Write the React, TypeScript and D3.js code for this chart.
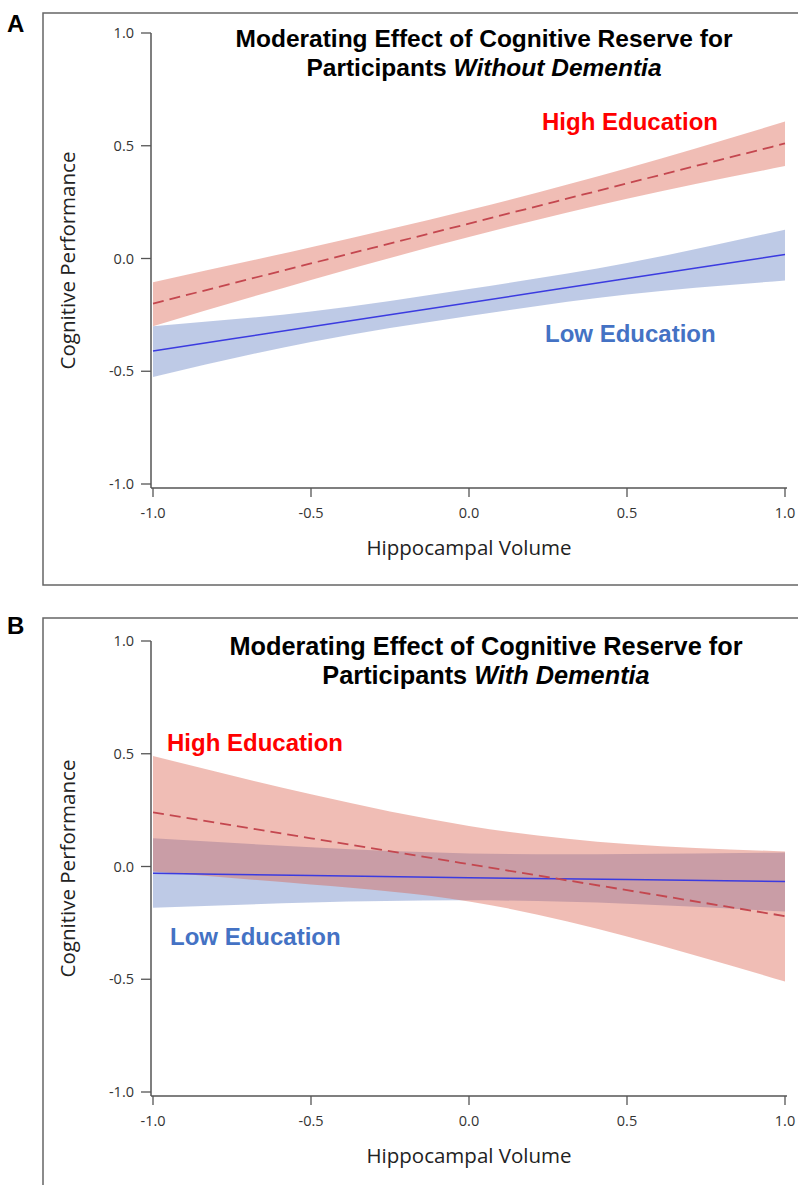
import React from "react";
import * as d3 from "d3";

// Hippocampal volume (standardised) at which the fitted values were read
const volume = [-1, -0.5, 0, 0.5, 1];

// Panel A: participants without dementia
const aHighFit = [-0.2, -0.022, 0.155, 0.333, 0.51];
const aHighUpper = [-0.105, 0.05, 0.215, 0.4, 0.607];
const aHighLower = [-0.3, -0.095, 0.095, 0.265, 0.41];
const aLowFit = [-0.41, -0.303, -0.196, -0.089, 0.018];
const aLowUpper = [-0.3, -0.235, -0.135, -0.02, 0.128];
const aLowLower = [-0.525, -0.37, -0.255, -0.16, -0.098];

// Panel B: participants with dementia
const bHighFit = [0.24, 0.125, 0.01, -0.105, -0.22];
const bHighUpper = [0.49, 0.32, 0.18, 0.1, 0.067];
const bHighLower = [-0.022, -0.08, -0.155, -0.31, -0.51];
const bLowFit = [-0.03, -0.04, -0.05, -0.058, -0.067];
const bLowUpper = [0.125, 0.085, 0.058, 0.055, 0.062];
const bLowLower = [-0.183, -0.16, -0.15, -0.165, -0.2];

const xTicks = [-1, -0.5, 0, 0.5, 1];
const yTicks = [-1, -0.5, 0, 0.5, 1];

const tickFont = "'Open Sans', 'DejaVu Sans', sans-serif";
const boldFont = "'Liberation Sans', Arial, sans-serif";

type PanelProps = {
  top: number;
  letter: string;
  letterY: number;
  frameTop: number;
  frameHeight: number;
  italic: string;
  titleX: number;
  titleSize: number;
  highFit: number[];
  highUpper: number[];
  highLower: number[];
  lowFit: number[];
  lowUpper: number[];
  lowLower: number[];
  highLabel: [number, number];
  lowLabel: [number, number];
};

function Panel(p: PanelProps) {
  const x = d3.scaleLinear().domain([-1, 1]).range([153, 785]);
  const y = d3.scaleLinear().domain([-1, 1]).range([484, 33]);
  const axisY = y(-1) + 4;

  const band = (lo: number[], hi: number[]) =>
    d3
      .area<number>()
      .x((d) => x(d))
      .y0((_, i) => y(lo[i]))
      .y1((_, i) => y(hi[i]))
      .curve(d3.curveNatural)(volume) || "";
  const line = (v: number[]) =>
    d3
      .line<number>()
      .x((d) => x(d))
      .y((_, i) => y(v[i]))
      .curve(d3.curveNatural)(volume) || "";

  // hyphen instead of d3's unicode minus, like the original
  const fmt = (t: number) => d3.format(".1f")(t).replace("\u2212", "-");

  return (
    <g transform={`translate(0, ${p.top})`}>
      <rect x={43} y={p.frameTop} width={800} height={p.frameHeight} fill="none" stroke="#666" strokeWidth={1.5} />
      <text x={7} y={p.letterY} fontFamily={boldFont} fontWeight="bold" fontSize={24} fill="#000">
        {p.letter}
      </text>

      <path d={band(p.lowLower, p.lowUpper)} fill="rgb(100,128,196)" fillOpacity={0.42} />
      <path d={band(p.highLower, p.highUpper)} fill="rgb(217,90,70)" fillOpacity={0.4} />
      <path d={line(p.lowFit)} fill="none" stroke="#3b3be0" strokeWidth={1.5} />
      <path d={line(p.highFit)} fill="none" stroke="#c4474f" strokeWidth={1.8} strokeDasharray="11,6" />

      {/* axes */}
      <line x1={151} x2={151} y1={y(1)} y2={axisY} stroke="#555" strokeWidth={1.5} />
      <line x1={151} x2={787} y1={axisY} y2={axisY} stroke="#555" strokeWidth={1.5} />
      {yTicks.map((t) => (
        <g key={"y" + t}>
          <line x1={141} x2={151} y1={y(t)} y2={y(t)} stroke="#555" strokeWidth={1.3} />
          <text x={134} y={y(t) + 5} textAnchor="end" fontFamily={tickFont} fontSize={14.5} fill="#333">
            {fmt(t)}
          </text>
        </g>
      ))}
      {xTicks.map((t) => (
        <g key={"x" + t}>
          <line x1={x(t)} x2={x(t)} y1={axisY} y2={axisY + 9} stroke="#555" strokeWidth={1.3} />
          <text x={x(t)} y={axisY + 30} textAnchor="middle" fontFamily={tickFont} fontSize={14.5} fill="#333">
            {fmt(t)}
          </text>
        </g>
      ))}
      <text
        transform={`translate(75, ${(y(1) + axisY) / 2}) rotate(-90)`}
        textAnchor="middle"
        fontFamily={tickFont}
        fontSize={20.5}
        fill="#222"
      >
        Cognitive Performance
      </text>
      <text x={469} y={axisY + 67} textAnchor="middle" fontFamily={tickFont} fontSize={20.5} fill="#222">
        Hippocampal Volume
      </text>

      {/* title */}
      <text x={p.titleX} y={47} textAnchor="middle" fontFamily={boldFont} fontWeight="bold" fontSize={p.titleSize} fill="#000">
        Moderating Effect of Cognitive Reserve for
      </text>
      <text x={p.titleX} y={76} textAnchor="middle" fontFamily={boldFont} fontWeight="bold" fontSize={p.titleSize} fill="#000">
        Participants <tspan fontStyle="italic">{p.italic}</tspan>
      </text>

      <text x={p.highLabel[0]} y={p.highLabel[1]} fontFamily={boldFont} fontWeight="bold" fontSize={24} fill="#ff0000">
        High Education
      </text>
      <text x={p.lowLabel[0]} y={p.lowLabel[1]} fontFamily={boldFont} fontWeight="bold" fontSize={24} fill="#4472c4">
        Low Education
      </text>
    </g>
  );
}

export default function App() {
  return (
    <svg
      width={798}
      height={1185}
      style={{ position: "absolute", left: 0, top: 0, background: "#fff" }}
    >
      <rect width={798} height={1185} fill="#fff" />
      <Panel
        top={0}
        letter="A"
        letterY={32}
        frameTop={13}
        frameHeight={572}
        italic="Without Dementia"
        titleX={484}
        titleSize={24.5}
        highFit={aHighFit}
        highUpper={aHighUpper}
        highLower={aHighLower}
        lowFit={aLowFit}
        lowUpper={aLowUpper}
        lowLower={aLowLower}
        highLabel={[542, 130]}
        lowLabel={[545, 342]}
      />
      <Panel
        top={608}
        letter="B"
        letterY={26}
        frameTop={10}
        frameHeight={600}
        italic="With Dementia"
        titleX={486}
        titleSize={25.3}
        highFit={bHighFit}
        highUpper={bHighUpper}
        highLower={bHighLower}
        lowFit={bLowFit}
        lowUpper={bLowUpper}
        lowLower={bLowLower}
        highLabel={[167, 143]}
        lowLabel={[170, 337]}
      />
    </svg>
  );
}
